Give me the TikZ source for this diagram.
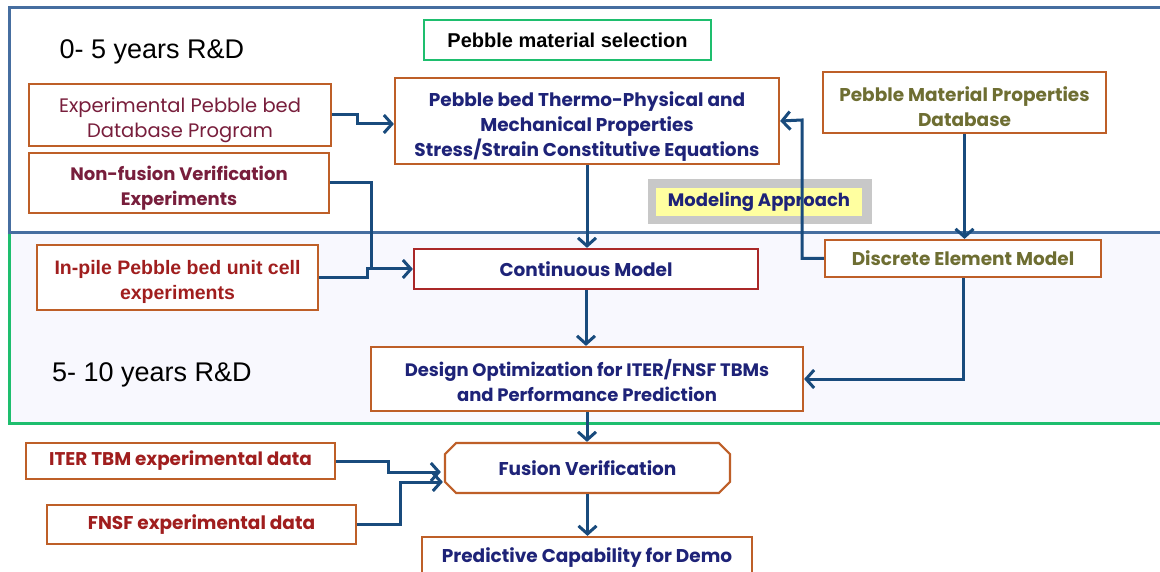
\documentclass[tikz,border=0pt]{standalone}
\usepackage{fontspec}
\setmainfont{Poppins}
\newfontfamily\arial{Liberation Sans}
\usetikzlibrary{arrows.meta,shapes.misc,calc}
\definecolor{frameblue}{RGB}{70,110,160}
\definecolor{framegreen}{RGB}{30,190,110}
\definecolor{boxorange}{RGB}{190,95,40}
\definecolor{boxred}{RGB}{170,40,40}
\definecolor{arrowblue}{RGB}{25,75,125}
\definecolor{navy}{RGB}{30,35,120}
\definecolor{maroontxt}{RGB}{120,30,60}
\definecolor{redtxt}{RGB}{160,30,30}
\definecolor{olivetxt}{RGB}{110,110,50}
\definecolor{lav}{RGB}{248,248,254}
\definecolor{yell}{RGB}{255,255,160}
\definecolor{grayb}{RGB}{200,200,200}
\newcommand{\myfs}[2]{\fontsize{#1}{#2}\selectfont}
\tikzset{
  box/.style={draw=boxorange, line width=2.2pt, fill=white, align=center, inner sep=0pt},
  txt/.style={align=center, inner sep=0pt},
  navytext/.style={text=navy, font=\bfseries\myfs{18.5}{25}},
  arr/.style={draw=arrowblue, line width=3pt, -{Straight Barb[length=8pt,width=18pt]}},
  conn/.style={draw=arrowblue, line width=3pt},
  yearlabel/.style={font=\arial\myfs{27}{30}, text=black}
}
\begin{document}
\begin{tikzpicture}[x=1pt,y=-1pt]
\useasboundingbox (0,0) rectangle (1160,572);
\fill[white] (0,0) rectangle (1160,572);
% frames
\fill[lav] (9,233) rectangle (1175,423);
\draw[framegreen, line width=3pt] (9,233) rectangle (1175,423);
\draw[frameblue, line width=3pt] (9,8) rectangle (1175,233);

% labels
\node[yearlabel] (y1) at (152,52) {0- 5 years R\&D};
\node[yearlabel] (y2) at (152,375) {5- 10 years R\&D};

% nodes
\node[draw=framegreen, line width=2pt, fill=white, minimum width=287pt, minimum height=40pt, font=\arial\bfseries\myfs{20}{22}] (psel) at (567.5,40) {Pebble material selection};

\node[box, minimum width=302pt, minimum height=62pt] (epb) at (180,115) {};
\node[txt, text=maroontxt, font=\myfs{19.5}{25}] (epbt) at (180,120) {Experimental Pebble bed\\Database Program};

\node[box, minimum width=300pt, minimum height=60pt] (nfv) at (179,183) {};
\node[txt, text=maroontxt, font=\bfseries\myfs{18}{25}] (nfvt) at (179,188) {Non-fusion Verification\\Experiments};

\node[box, minimum width=384pt, minimum height=86pt] (thermo) at (587,121) {};
\node[txt, navytext] (thermot) at (587,127) {Pebble bed Thermo-Physical and\\Mechanical Properties\\Stress/Strain Constitutive Equations};

\node[box, minimum width=283pt, minimum height=61pt] (pmdb) at (964.5,102.5) {};
\node[txt, text=olivetxt, font=\bfseries\myfs{18.5}{25}] (pmdbt) at (964.5,106.5) {Pebble Material Properties\\Database};

\node[fill=grayb, minimum width=224pt, minimum height=45pt, inner sep=0pt] (mabg) at (760,201.5) {};
\node[fill=yell, minimum width=206pt, minimum height=28pt, inner sep=0pt, text=navy, font=\bfseries\myfs{18}{25}] (ma) at (759,202) {Modeling Approach};

\node[box, minimum width=276pt, minimum height=37pt, text=olivetxt, font=\bfseries\myfs{18.5}{25}] (discrete) at (963,258.5) {Discrete Element Model};

\node[box, minimum width=281pt, minimum height=65pt] (inpile) at (177.5,277.5) {};
\node[txt, text=redtxt, font=\arial\bfseries\myfs{19.5}{25}] (inpilet) at (177.5,281.5) {In-pile Pebble bed unit cell\\experiments};

\node[box, draw=boxred, minimum width=344pt, minimum height=40pt, navytext] (cont) at (586,269) {Continuous Model};

\node[box, minimum width=432pt, minimum height=64pt] (design) at (587,379) {};
\node[txt, text=navy, font=\bfseries\myfs{18}{25}] (designt) at (587,380.5) {Design Optimization for ITER/FNSF TBMs\\and Performance Prediction};

\node[box, minimum width=309pt, minimum height=36pt, text=redtxt, font=\bfseries\myfs{18.4}{25}] (iter) at (180.5,461) {ITER TBM experimental data};
\node[box, minimum width=309pt, minimum height=39pt, text=redtxt, font=\bfseries\myfs{18.5}{25}] (fnsf) at (201.5,524.5) {FNSF experimental data};
\node[box, chamfered rectangle, chamfered rectangle angle=45, chamfered rectangle xsep=14pt, minimum width=285pt, minimum height=50pt, navytext] (fusion) at (587.5,468) {Fusion Verification};
\node[box, minimum width=330pt, minimum height=42pt, navytext] (pred) at (587,558) {Predictive Capability for Demo};

% connectors
\draw[arr] (epb.east) -- ++(25,0) -- ++(0,9) -- ($(thermo.west)+(0,3)$);
\draw[conn] (inpile.east) -- (367,277.5) -- (367,269) -- (371,269);
\draw[arr] (nfv.east) -- (371,183) -- (371,269) -- (cont.west);
\draw[arr] (thermo.south) -- (thermo.south |- cont.north);
\draw[arr] (discrete.west) -- (802,258.5) -- (802,120) -- (thermo.east);
\draw[arr] (pmdb.south) -- (pmdb.south |- discrete.north);
\draw[arr] (cont.south) -- (cont.south |- design.north);
\draw[arr] (discrete.south) |- (design.east);
\draw[arr] (design.south) -- (design.south |- fusion.north);
\draw[arr] (iter.east) -- (388,461) -- (388,472) -- ($(fusion.west)+(-3,4)$);
\draw[arr] (fnsf.east) -- (400,524.5) -- (400,482) -- ($(fusion.west)+(-1,14)$);
\draw[arr] (fusion.south) -- (fusion.south |- pred.north);
\end{tikzpicture}
\end{document}
